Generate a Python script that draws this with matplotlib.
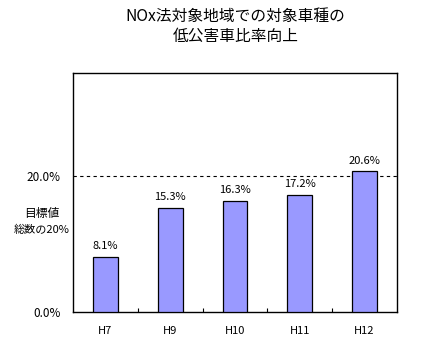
import matplotlib.pyplot as plt
import numpy as np

plt.rcParams['font.family'] = ['Noto Sans CJK JP', 'DejaVu Sans']

years = ["H7", "H9", "H10", "H11", "H12"]
ratio = [8.1, 15.3, 16.3, 17.2, 20.6]
target = 20.0

fig = plt.figure(figsize=(4.32, 3.6), dpi=100)
ax = fig.add_axes([0.169, 0.133, 0.75, 0.664])

x = np.arange(len(years))
ax.bar(x, ratio, width=0.38, color="#9999FF", edgecolor="black", linewidth=0.9, zorder=3)
for xi, v in zip(x, ratio):
    ax.text(xi, v + 0.8, f"{v:.1f}%", ha="center", va="bottom", fontsize=8)

ax.axhline(target, color="black", linestyle=(0, (3, 3)), linewidth=0.8, zorder=2)

ax.set_xlim(-0.5, len(years) - 0.5)
ax.set_ylim(0, 35)
ax.set_yticks([0, 20])
ax.set_yticklabels(["0.0%", "20.0%"], fontsize=8.5)
ax.tick_params(axis="y", length=0, pad=9)
ax.set_xticks(x)
ax.set_xticklabels(years, fontsize=8)
ax.tick_params(axis="x", length=0, pad=10)
ax.set_xticks(np.arange(0.5, len(years) - 0.5), minor=True)
ax.tick_params(axis="x", which="minor", direction="in", length=3, width=0.8)
for s in ax.spines.values():
    s.set_linewidth(1.0)

fig.text(0.097, 0.408, "目標値", ha="center", va="center", fontsize=8.5)
fig.text(0.097, 0.362, "総数の20%", ha="center", va="center", fontsize=8)

fig.text(0.545, 0.954, "NOx法対象地域での対象車種の", ha="center", va="center", fontsize=11.3)
fig.text(0.545, 0.898, "低公害車比率向上", ha="center", va="center", fontsize=11.3)

fig.savefig("out.png", dpi=100)
